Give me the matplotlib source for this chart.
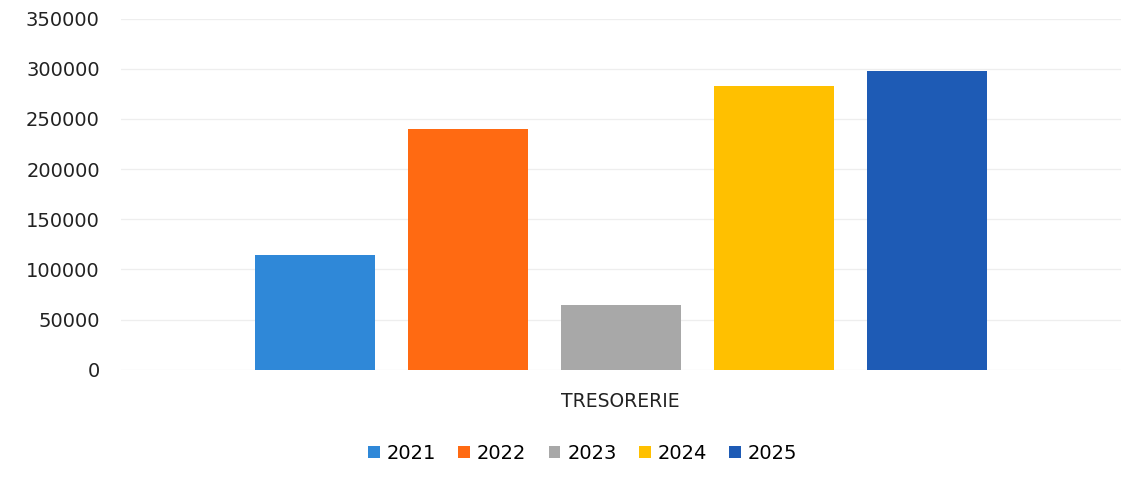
import numpy as np
import matplotlib.pyplot as plt
from matplotlib.patches import Patch

# ── Data ──────────────────────────────────────────────────────────────────────
category = 'TRESORERIE'
years    = ['2021', '2022', '2023', '2024', '2025']
values   = [114000, 240000, 65000, 282500, 297500]
colors   = ['#2F88D8', '#FF6A12', '#A8A8A8', '#FFC000', '#1E5BB5']

fig = plt.figure(figsize=(11.38, 4.91), dpi=100)
ax  = fig.add_axes([0.106, 0.247, 0.879, 0.715])

width  = 0.12
offset = 0.153
for i, (y, v, c) in enumerate(zip(years, values, colors)):
    ax.bar((i - 2) * offset, v, width=width, color=c, label=y, zorder=3)

ax.set_xlim(-0.5, 0.5)
ax.set_ylim(0, 350000)
ax.set_yticks(np.arange(0, 350001, 50000))
ax.set_yticklabels([str(t) for t in range(0, 350001, 50000)], fontsize=14, color='#222222')
ax.set_xticks([0])
ax.set_xticklabels([category], fontsize=13.5, color='#222222')
ax.tick_params(axis='y', length=0, pad=15)
ax.tick_params(axis='x', length=0, pad=16)
ax.yaxis.grid(True, color='#EEEEEE', lw=0.9, zorder=0)
for s in ax.spines.values():
    s.set_visible(False)

handles = [Patch(facecolor=c, label=y) for y, c in zip(years, colors)]
fig.legend(handles=handles, loc='center', bbox_to_anchor=(0.512, 0.077), ncol=5,
           frameon=False, fontsize=14, handlelength=0.6, handleheight=0.6,
           handletextpad=0.35, columnspacing=1.15)

plt.savefig('out.png', dpi=100, facecolor='white')
